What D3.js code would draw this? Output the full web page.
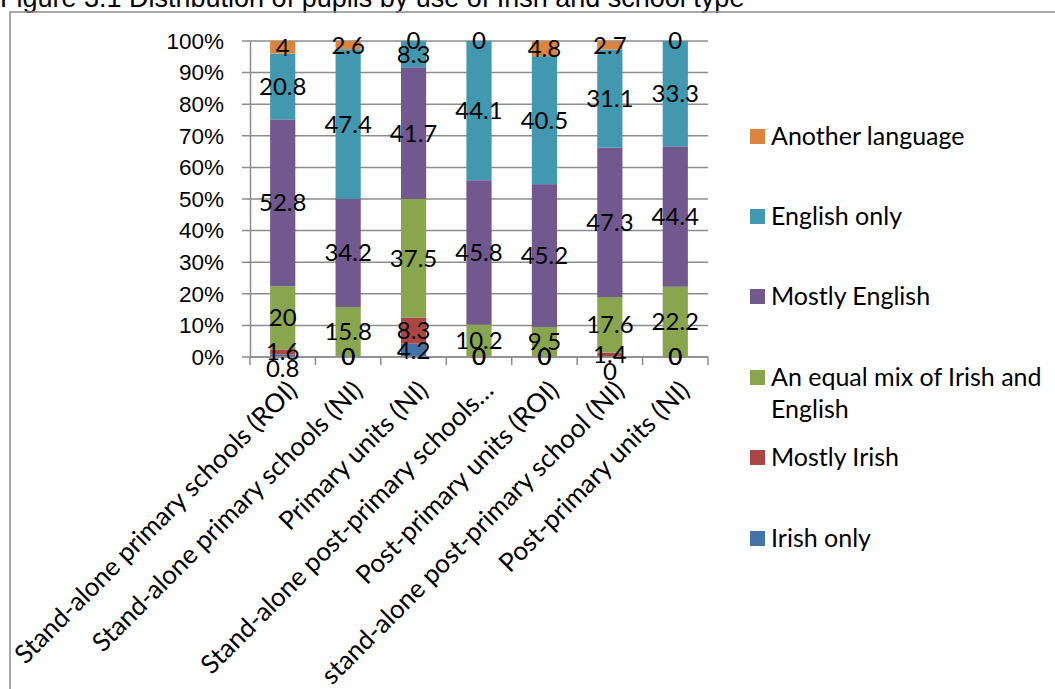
<!DOCTYPE html>
<html>
<head>
<meta charset="utf-8">
<script src="https://cdn.jsdelivr.net/npm/d3@7"></script>
<style>
  body { margin: 0; background: #fff; }
  .tick-label { font-family: "Liberation Sans", Arial, sans-serif; font-size: 22.5px; fill: #000; }
  .cat-label, .legend-label, .data-label { font-family: Lato, "Open Sans", sans-serif; fill: #000; }
</style>
</head>
<body>
<div id="chart"></div>
<script>
// chart values
var categories = [
  "Stand-alone primary schools (ROI)",
  "Stand-alone primary schools (NI)",
  "Primary units (NI)",
  "Stand-alone post-primary schools\u2026",
  "Post-primary units (ROI)",
  "stand-alone post-primary school (NI)",
  "Post-primary units (NI)"
];
var seriesNames = ["Irish only", "Mostly Irish", "An equal mix of Irish and English",
  "Mostly English", "English only", "Another language"];
var irishOnly = [0.8, 0, 4.2, 0, 0, 0, 0];
var mostlyIrish = [1.6, 0, 8.3, 0, 0, 1.4, 0];
var equalMix = [20, 15.8, 37.5, 10.2, 9.5, 17.6, 22.2];
var mostlyEnglish = [52.8, 34.2, 41.7, 45.8, 45.2, 47.3, 44.4];
var englishOnly = [20.8, 47.4, 8.3, 44.1, 40.5, 31.1, 33.3];
var anotherLanguage = [4, 2.6, 0, 0, 4.8, 2.7, 0];
var yTickValues = [0, 0.1, 0.2, 0.3, 0.4, 0.5, 0.6, 0.7, 0.8, 0.9, 1];
var colors = ["#4572A7", "#AA4643", "#89A54E", "#71588F", "#4198AF", "#DB843D"];
var title = "Figure 3.1 Distribution of pupils by use of Irish and school type";

var svgWidth = 1055;
var svgHeight = 689;
var plot = { left: 250, right: 708, top: 41, bottom: 357 };

var svg = d3.select("#chart")
  .append("svg")
  .attr("width", svgWidth)
  .attr("height", svgHeight);

// title, cut off at top like the source
svg.append("text")
  .attr("x", 0)
  .attr("y", 7)
  .attr("class", "tick-label")
  .style("font-size", "27px")
  .text(title);

// outer chart frame
svg.append("rect")
  .attr("x", 10)
  .attr("y", 12)
  .attr("width", 1100)
  .attr("height", 800)
  .attr("fill", "none")
  .attr("stroke", "#8c8c8c")
  .attr("stroke-width", 1.5);

// build the table for stacking
var table = categories.map(function(c, i) {
  return {
    category: c,
    "Irish only": irishOnly[i],
    "Mostly Irish": mostlyIrish[i],
    "An equal mix of Irish and English": equalMix[i],
    "Mostly English": mostlyEnglish[i],
    "English only": englishOnly[i],
    "Another language": anotherLanguage[i]
  };
});

var stack = d3.stack().keys(seriesNames).offset(d3.stackOffsetExpand);
var stacked = stack(table);

var xScale = d3.scaleBand()
  .domain(categories)
  .range([plot.left, plot.right])
  .paddingInner(0.615)
  .paddingOuter(0.3075);

var yScale = d3.scaleLinear()
  .domain([0, 1])
  .range([plot.bottom, plot.top]);

// gridlines
svg.append("g")
  .selectAll("line")
  .data(yTickValues)
  .enter()
  .append("line")
  .attr("x1", plot.left - 8)
  .attr("x2", plot.right)
  .attr("y1", d => yScale(d))
  .attr("y2", d => yScale(d))
  .attr("stroke", "#8c8c8c")
  .attr("stroke-width", 1.5);

// y axis
var leftAxis = d3.axisLeft(yScale)
  .tickValues(yTickValues)
  .tickFormat(d3.format(".0%"))
  .tickSize(0)
  .tickPadding(26);

var yAxisG = svg.append("g")
  .attr("transform", `translate(${plot.left}, 0)`)
  .call(leftAxis);
yAxisG.select(".domain").attr("stroke", "#8c8c8c").attr("stroke-width", 1.5);
yAxisG.selectAll("text").attr("class", "tick-label").attr("fill", "#000").attr("font-family", null).attr("font-size", null);

// bars
var groups = svg.append("g")
  .selectAll("g")
  .data(stacked)
  .enter()
  .append("g")
  .attr("fill", (d, i) => colors[i]);

groups.selectAll("rect")
  .data(d => d)
  .enter()
  .append("rect")
  .attr("x", d => xScale(d.data.category))
  .attr("width", xScale.bandwidth())
  .attr("y", d => yScale(d[1]))
  .attr("height", d => yScale(d[0]) - yScale(d[1]));

// x axis with ticks at band boundaries
var step = xScale.step();
var xAxisG = svg.append("g");
xAxisG.append("line")
  .attr("x1", plot.left)
  .attr("x2", plot.right)
  .attr("y1", plot.bottom)
  .attr("y2", plot.bottom)
  .attr("stroke", "#8c8c8c")
  .attr("stroke-width", 1.5);
xAxisG.selectAll("line.tk")
  .data(d3.range(categories.length + 1))
  .enter()
  .append("line")
  .attr("class", "tk")
  .attr("x1", i => plot.left + i * step)
  .attr("x2", i => plot.left + i * step)
  .attr("y1", plot.bottom)
  .attr("y2", plot.bottom + 8)
  .attr("stroke", "#8c8c8c")
  .attr("stroke-width", 1.5);

// rotated category labels
xAxisG.selectAll("text")
  .data(categories)
  .enter()
  .append("text")
  .attr("class", "cat-label")
  .style("font-size", "26px")
  .attr("text-anchor", "end")
  .attr("transform", d => `translate(${xScale(d) + xScale.bandwidth() / 2 + 16}, ${plot.bottom + 35}) rotate(-45)`)
  .text(d => d);

// data labels at segment centres
var labelData = [];
stacked.forEach(function(s, si) {
  s.forEach(function(d, ci) {
    labelData.push({
      value: d.data[s.key],
      cat: d.data.category,
      y: yScale((d[0] + d[1]) / 2),
      si: si,
      ci: ci
    });
  });
});
// push the lowest label down when it crowds the next one (as Excel does)
labelData.forEach(function(l) {
  if (l.si === 0) {
    var next = labelData.find(m => m.si === 1 && m.ci === l.ci);
    var gap = l.y - next.y;
    if (gap > 0.5 && gap < 12) l.y = next.y + 17;
  }
});

svg.append("g")
  .selectAll("text")
  .data(labelData)
  .enter()
  .append("text")
  .attr("class", "data-label")
  .style("font-size", "24px")
  .attr("text-anchor", "middle")
  .attr("dy", "0.35em")
  .attr("x", d => xScale(d.cat) + xScale.bandwidth() / 2)
  .attr("y", d => d.y)
  .text(d => d.value);

// legend, top entry is the last series
var legendRows = [
  { lines: ["Another language"], y: 136, color: colors[5] },
  { lines: ["English only"], y: 216, color: colors[4] },
  { lines: ["Mostly English"], y: 296, color: colors[3] },
  { lines: ["An equal mix of Irish and", "English"], y: 377, color: colors[2] },
  { lines: ["Mostly Irish"], y: 457, color: colors[1] },
  { lines: ["Irish only"], y: 538, color: colors[0] }
];

var legend = svg.append("g")
  .selectAll("g")
  .data(legendRows)
  .enter()
  .append("g")
  .attr("transform", d => `translate(750, ${d.y})`);

legend.append("rect")
  .attr("x", 0)
  .attr("y", -7)
  .attr("width", 15)
  .attr("height", 15)
  .attr("fill", d => d.color);

legend.append("text")
  .attr("class", "legend-label")
  .style("font-size", "25px")
  .attr("x", 21)
  .attr("y", 0)
  .selectAll("tspan")
  .data(d => d.lines)
  .enter()
  .append("tspan")
  .attr("x", 21)
  .attr("dy", (d, i) => i === 0 ? "0.35em" : "1.3em")
  .text(d => d);
</script>
</body>
</html>
